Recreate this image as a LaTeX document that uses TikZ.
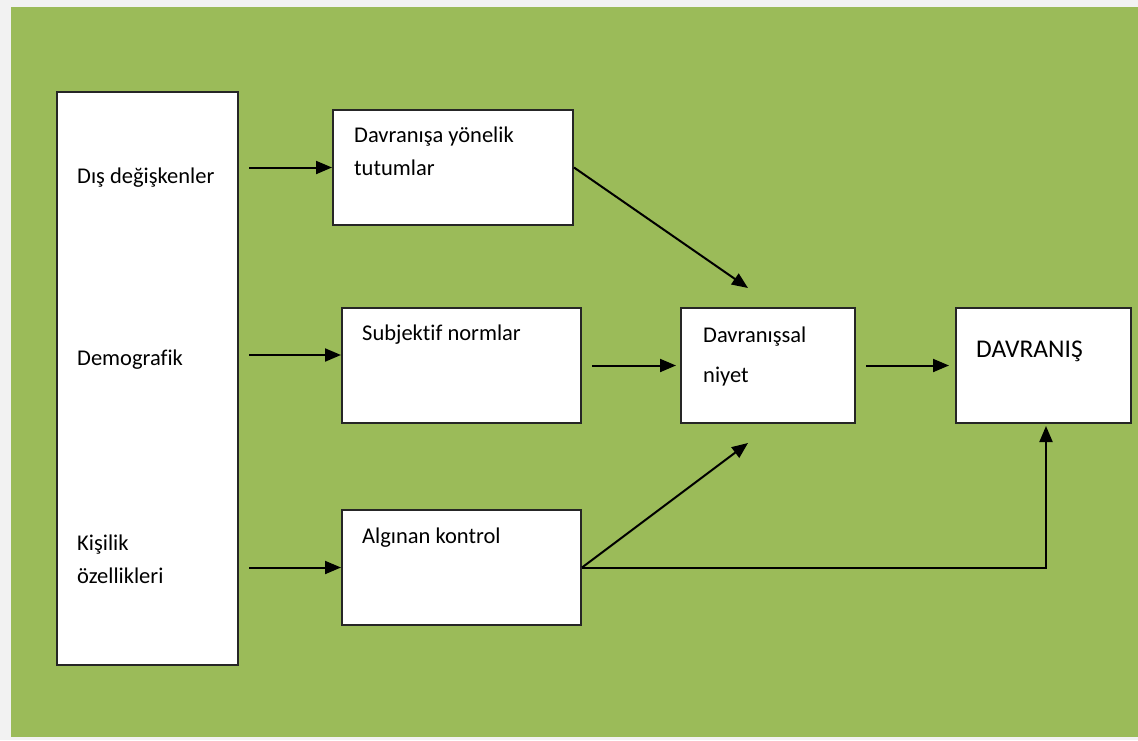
\documentclass[tikz,border=0pt]{standalone}
\usepackage{fontspec}
\setmainfont{Carlito}[Ligatures=NoCommon]
\usepackage{tikz}
\usetikzlibrary{positioning, arrows.meta}

\definecolor{olivegreen}{HTML}{9BBB59}
\definecolor{pagegray}{HTML}{F2F2F2}

\tikzset{
  box/.style={draw=black!85, line width=2pt, fill=white, inner sep=0pt},
  lbl/.style={anchor=base west, inner sep=0pt, font=\fontsize{22.5}{22.5}\selectfont},
  arr/.style={line width=2pt, -{Triangle[length=16pt,width=13pt]}}
}

\begin{document}
\begin{tikzpicture}[x=1pt, y=-1pt]
    % background
    \fill[pagegray] (0,0) rectangle (1138,740);
    \fill[olivegreen] (11,7) rectangle (1138,737);
    \useasboundingbox (0,0) rectangle (1138,740);

    % draw the boxes
    \node[box, minimum width=181pt, minimum height=573pt] (lft) at (147.5,378.5) {};
    \node[box, minimum width=240pt, minimum height=115pt] (tutum) at (453,167.5) {};
    \node[box, minimum width=239pt, minimum height=115pt] (norm) at (461.5,365.5) {};
    \node[box, minimum width=239pt, minimum height=115pt] (kontrol) at (461.5,567.5) {};
    \node[box, minimum width=174pt, minimum height=115pt] (niyet) at (768,365.5) {};
    \node[box, minimum width=175pt, minimum height=115pt] (davranis) at (1043.5,365.5) {};

    % draw the labels
    \node[lbl] (tDis) at (77,183) {Dış değişkenler};
    \node[lbl] (tDemo) at (77,365) {Demografik};
    \node[lbl] (tKisi) at (77,550) {Kişilik};
    \node[lbl] (tOzel) at (77,583) {özellikleri};
    \node[lbl] (tTutum1) at (354,142) {Davranışa yönelik};
    \node[lbl] (tTutum2) at (354,175) {tutumlar};
    \node[lbl] (tNorm) at (362,340) {Subjektif normlar};
    \node[lbl] (tKontrol) at (362,543) {Algınan kontrol};
    \node[lbl] (tNiyet1) at (703,342) {Davranışsal};
    \node[lbl] (tNiyet2) at (703,382) {niyet};
    \node[lbl, font=\fontsize{25.5}{25.5}\selectfont] (tDavranis) at (976,357) {DAVRANIŞ};

    % free ends of the diagonal arrows
    \coordinate (p1) at (748,288);
    \coordinate (p2) at (748,443);

    % draw the arrows
    \draw[arr] ([xshift=10pt]lft.east |- tutum.west) -- (tutum.west);
    \draw[arr] ([xshift=10pt]lft.east |- 0,355) -- ([yshift=10.5pt]norm.west);
    \draw[arr] ([xshift=10pt]lft.east |- kontrol.west) -- (kontrol.west);
    \draw[arr] (tutum.east) -- (p1);
    \draw[arr] ([xshift=10pt]norm.east) -- ([xshift=-4pt]niyet.west);
    \draw[arr] (kontrol.east) -- (p2);
    \draw[arr] (kontrol.east) -| ([xshift=2.5pt, yshift=-2pt]davranis.south);
    \draw[arr] ([xshift=10pt]niyet.east) -- ([xshift=-6pt]davranis.west);
\end{tikzpicture}
\end{document}
